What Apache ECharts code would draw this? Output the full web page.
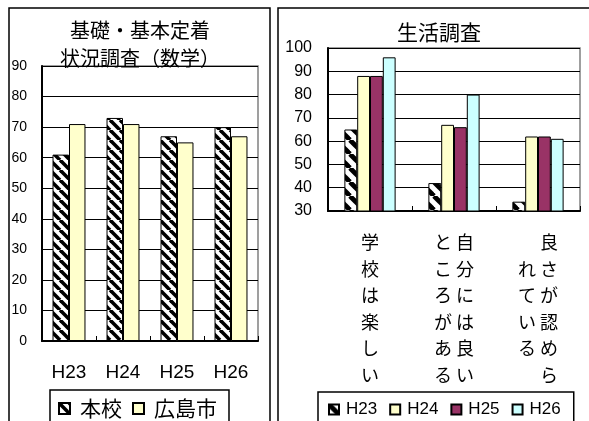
<!DOCTYPE html>
<html>
<head>
<meta charset="utf-8">
<script src="https://cdn.jsdelivr.net/npm/echarts@6/dist/echarts.min.js"></script>
<style>html,body{margin:0;padding:0;background:#fff;}#c{width:589px;height:421px;}</style>
</head>
<body>
<div id="c"></div>
<script>
// ---- data ----
const leftTitle = '基礎・基本定着\n状況調査（数学）';
const leftCategories = ['H23', 'H24', 'H25', 'H26'];
const leftSeriesNames = ['本校', '広島市'];
const leftSchool = [61, 73, 67, 70];
const leftCity = [71, 71, 65, 67];

const rightTitle = '生活調査';
const rightCategories = ['学校は楽しい', '自分には良いところがある', '良さが認められている'];
const rightSeriesNames = ['H23', 'H24', 'H25', 'H26'];
const rightH23 = [65, 42, 34];
const rightH24 = [88, 67, 62];
const rightH25 = [88, 66, 62];
const rightH26 = [96, 80, 61];

// ---- helpers ----
function hatch(s, w) {
  const c = document.createElement('canvas');
  c.width = s; c.height = s;
  const ctx = c.getContext('2d');
  ctx.fillStyle = '#fff'; ctx.fillRect(0, 0, s, s);
  ctx.strokeStyle = '#000'; ctx.lineWidth = w;
  for (const o of [-s, 0, s]) {
    ctx.beginPath(); ctx.moveTo(o, 0); ctx.lineTo(o + s, s); ctx.stroke();
  }
  return { image: c, repeat: 'repeat' };
}
function verticalLabel(text, per) {
  const cols = [];
  for (let i = 0; i < text.length; i += per) cols.push(text.slice(i, i + per).split(''));
  const rows = Math.max.apply(null, cols.map(c => c.length));
  const padded = cols.map(c => {
    const top = Math.floor((rows - c.length) / 2);
    return Array(top).fill('　').concat(c).concat(Array(rows - top - c.length).fill('　'));
  });
  const lines = [];
  for (let r = 0; r < rows; r++) lines.push(padded.slice().reverse().map(col => col[r]).join(' '));
  return lines.join('\n');
}

const FONT = '"Liberation Sans", "Noto Sans CJK JP", sans-serif';
const JFONT = '"Noto Sans CJK JP", "Liberation Sans", sans-serif';
const hatchL = hatch(10, 3.6);
const hatchR = hatch(14, 4.8);
const border = { borderColor: '#000', borderWidth: 1 };

const chart = echarts.init(document.getElementById('c'), null, { renderer: 'canvas' });
chart.setOption({
  backgroundColor: '#fff',
  animation: false,
  graphic: [
    { type: 'rect', shape: { x: 9, y: 8, width: 261, height: 430 }, style: { fill: 'none', stroke: '#000', lineWidth: 1.5 }, z: 0 },
    { type: 'rect', shape: { x: 278, y: 8, width: 340, height: 430 }, style: { fill: 'none', stroke: '#000', lineWidth: 1.5 }, z: 0 },
    { type: 'text', x: 140, y: 16, style: { text: leftTitle, font: '20px ' + JFONT, textAlign: 'center', textVerticalAlign: 'top', lineHeight: 28, fill: '#000' } },
    { type: 'text', x: 439, y: 18, style: { text: rightTitle, font: '21px ' + JFONT, textAlign: 'center', textVerticalAlign: 'top', lineHeight: 28, fill: '#000' } }
  ],
  grid: [
    { left: 42, top: 66, width: 216, height: 275, show: true, borderColor: '#808080', borderWidth: 1.5, backgroundColor: '#fff' },
    { left: 328, top: 48, width: 252, height: 163, show: true, borderColor: '#808080', borderWidth: 1.5, backgroundColor: '#fff' }
  ],
  legend: [
    {
      data: leftSeriesNames, left: 50, top: 390, orient: 'horizontal', icon: 'rect',
      itemWidth: 11, itemHeight: 11, itemGap: 10,
      padding: [8, 12, 20, 8], borderColor: '#000', borderWidth: 1.5,
      textStyle: { fontSize: 21, fontFamily: JFONT, color: '#000', padding: [0, 0, 0, 5] }
    },
    {
      data: rightSeriesNames, left: 318, top: 392, orient: 'horizontal', icon: 'rect',
      itemWidth: 10, itemHeight: 10, itemGap: 12,
      padding: [9, 13, 20, 10], borderColor: '#000', borderWidth: 1.5,
      textStyle: { fontSize: 17, fontFamily: FONT, color: '#000', padding: [0, 0, 0, 2] }
    }
  ],
  xAxis: [
    {
      type: 'category', gridIndex: 0, data: leftCategories,
      axisLine: { lineStyle: { color: '#000', width: 2 } },
      axisTick: { show: true, inside: true, length: 5, lineStyle: { color: '#000' } },
      axisLabel: { color: '#000', fontSize: 19, fontFamily: FONT, margin: 22, lineHeight: 19 }
    },
    {
      type: 'category', gridIndex: 1, data: rightCategories,
      axisLine: { lineStyle: { color: '#000', width: 2 } },
      axisTick: { show: true, inside: true, length: 5, lineStyle: { color: '#000' } },
      axisLabel: {
        color: '#000', fontSize: 18, fontFamily: JFONT, margin: 18, lineHeight: 26.5, interval: 0,
        formatter: v => verticalLabel(v, 6)
      }
    }
  ],
  yAxis: [
    {
      type: 'value', gridIndex: 0, min: 0, max: 90, interval: 10,
      axisLine: { show: true, lineStyle: { color: '#000', width: 2 } },
      axisTick: { show: true, inside: true, length: 5, lineStyle: { color: '#000' } },
      splitLine: { show: true, lineStyle: { color: '#000', width: 1 } },
      axisLabel: { color: '#000', fontSize: 14, fontFamily: FONT, margin: 15 }
    },
    {
      type: 'value', gridIndex: 1, min: 30, max: 100, interval: 10,
      axisLine: { show: true, lineStyle: { color: '#000', width: 2 } },
      axisTick: { show: true, inside: true, length: 5, lineStyle: { color: '#000' } },
      splitLine: { show: true, lineStyle: { color: '#000', width: 1 } },
      axisLabel: { color: '#000', fontSize: 16, fontFamily: FONT, margin: 16 }
    }
  ],
  series: [
    { name: leftSeriesNames[0], type: 'bar', xAxisIndex: 0, yAxisIndex: 0, data: leftSchool, barGap: '0%', barCategoryGap: '39%', itemStyle: Object.assign({ color: hatchL }, border) },
    { name: leftSeriesNames[1], type: 'bar', xAxisIndex: 0, yAxisIndex: 0, data: leftCity, barGap: '0%', barCategoryGap: '39%', itemStyle: Object.assign({ color: '#FFFFCC' }, border) },
    { name: rightSeriesNames[0], type: 'bar', xAxisIndex: 1, yAxisIndex: 1, data: rightH23, barGap: '0%', barCategoryGap: '39%', itemStyle: Object.assign({ color: hatchR }, border) },
    { name: rightSeriesNames[1], type: 'bar', xAxisIndex: 1, yAxisIndex: 1, data: rightH24, barGap: '0%', barCategoryGap: '39%', itemStyle: Object.assign({ color: '#FFFFCC' }, border) },
    { name: rightSeriesNames[2], type: 'bar', xAxisIndex: 1, yAxisIndex: 1, data: rightH25, barGap: '0%', barCategoryGap: '39%', itemStyle: Object.assign({ color: '#993366' }, border) },
    { name: rightSeriesNames[3], type: 'bar', xAxisIndex: 1, yAxisIndex: 1, data: rightH26, barGap: '0%', barCategoryGap: '39%', itemStyle: Object.assign({ color: '#CCFFFF' }, border) }
  ]
});
</script>
</body>
</html>
